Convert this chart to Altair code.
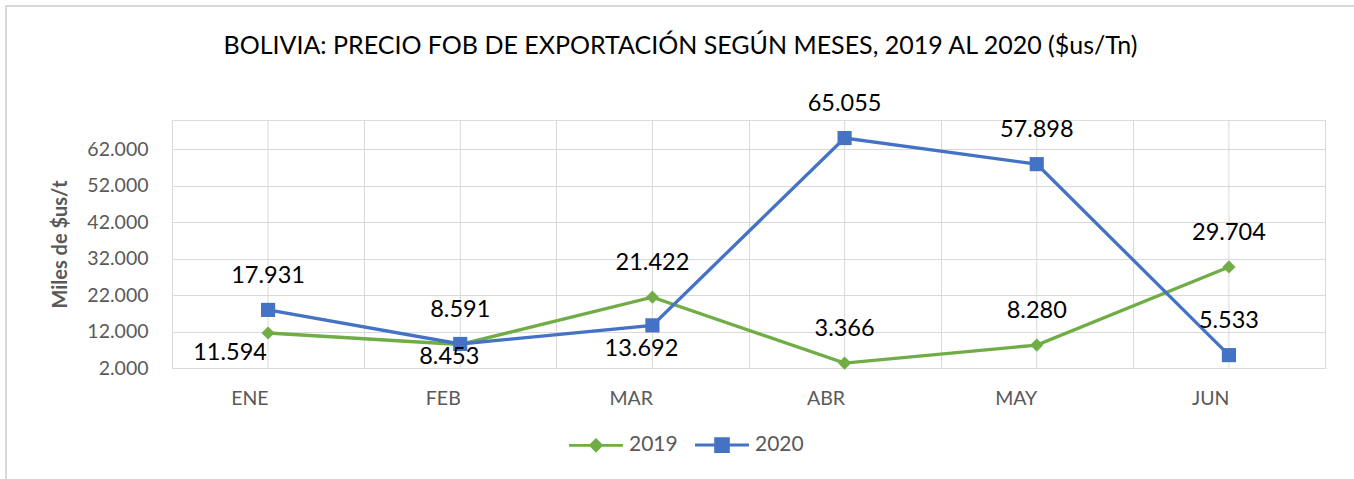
import altair as alt
import pandas as pd

# ---- data ----
meses = ["ENE", "FEB", "MAR", "ABR", "MAY", "JUN"]
series = ["2019", "2020"]
valores_2019 = [11594, 8453, 21422, 3366, 8280, 29704]
valores_2020 = [17931, 8591, 13692, 65055, 57898, 5533]
# where each data label sits relative to its point
etiqueta_2019 = ["abajo_izq", "abajo", "arriba", "arriba", "arriba", "arriba"]
etiqueta_2020 = ["arriba", "arriba", "abajo", "arriba", "arriba", "arriba"]
ticks_y = [2000, 12000, 22000, 32000, 42000, 52000, 62000]
dominio_y = [2000, 70000]

rows = []
for s, vals, pos in [("2019", valores_2019, etiqueta_2019), ("2020", valores_2020, etiqueta_2020)]:
    for m, v, p in zip(meses, vals, pos):
        rows.append({"mes": m, "serie": s, "valor": v, "pos": p})
df = pd.DataFrame(rows)
df_meses = pd.DataFrame({"mes": meses})

GREEN = "#70AD47"
BLUE = "#4472C4"
GRID = "#d9d9d9"
FONT = "Lato"
GREY_TXT = "#595959"

x_enc = alt.X(
    "mes:N", sort=meses,
    scale=alt.Scale(type="band", paddingInner=0, paddingOuter=0),
    axis=alt.Axis(title=None, tickBand="extent", grid=True, gridColor=GRID, ticks=False,
                  domain=False, labelFont=FONT, labelFontSize=19.5, labelColor=GREY_TXT,
                  labelPadding=30, labelAngle=0),
)
y_enc = alt.Y(
    "valor:Q",
    scale=alt.Scale(domain=dominio_y, nice=False, zero=False),
    axis=alt.Axis(values=ticks_y, labelExpr="replace(format(datum.value, ','), ',', '.')",
                  title="Miles de $us/t", titleFont=FONT, titleFontSize=20, titleFontWeight="bold",
                  titleColor=GREY_TXT, titlePadding=16, grid=True, gridColor=GRID, ticks=False,
                  domain=False, labelFont=FONT, labelFontSize=19.5, labelColor=GREY_TXT,
                  labelPadding=24),
)
color_scale = alt.Scale(domain=series, range=[GREEN, BLUE])

# legend symbols: a line stub with the marker on it (filled custom paths)
sym_2019 = "M-1,-0.055L1,-0.055L1,0.055L-1,0.055Z M0,-0.27L0.27,0L0,0.27L-0.27,0Z"
sym_2020 = "M-1,-0.055L1,-0.055L1,0.055L-1,0.055Z M-0.29,-0.29L0.29,-0.29L0.29,0.29L-0.29,0.29Z"

legend = alt.Legend(
    title=None, orient="none", legendX=396, legendY=297, direction="horizontal",
    symbolSize=2900, labelFont=FONT, labelFontSize=21,
    labelColor=GREY_TXT, labelOffset=5, columnPadding=14, symbolOpacity=1,
)

frame_top = alt.Chart(df_meses).mark_rule(color=GRID, strokeWidth=2).encode(
    x=alt.value(-167), x2=alt.value(1182), y=alt.value(-114)
)
frame_left = alt.Chart(df_meses).mark_rule(color=GRID, strokeWidth=2).encode(
    x=alt.value(-166), y=alt.value(-115), y2=alt.value(359)
)

rules = alt.Chart(df_meses).mark_rule(color=GRID, strokeWidth=1).encode(
    x=alt.X("mes:N", sort=meses)
)

lines = alt.Chart(df).mark_line(strokeWidth=3.3).encode(
    x=x_enc, y=y_enc,
    color=alt.Color("serie:N", scale=color_scale, legend=None),
)

pts_2019 = alt.Chart(df).transform_filter("datum.serie === '2019'").mark_point(
    filled=True, opacity=1, shape="diamond", size=175
).encode(x=alt.X("mes:N", sort=meses), y="valor:Q",
         color=alt.Color("serie:N", scale=color_scale, legend=None))

pts_2020 = alt.Chart(df).transform_filter("datum.serie === '2020'").mark_point(
    filled=True, opacity=1, shape="square", size=200
).encode(x=alt.X("mes:N", sort=meses), y="valor:Q",
         color=alt.Color("serie:N", scale=color_scale, legend=None))

legend_layer = alt.Chart(df).mark_point(filled=True, opacity=1).encode(
    x=alt.X("mes:N", sort=meses), y="valor:Q",
    size=alt.value(0),
    color=alt.Color("serie:N", scale=color_scale, legend=legend),
    shape=alt.Shape("serie:N", scale=alt.Scale(domain=series, range=[sym_2019, sym_2020]), legend=legend),
)

txt_expr = "replace(format(datum.valor, ','), ',', '.')"
base_txt = alt.Chart(df).transform_calculate(txt=txt_expr, ylab="max(datum.valor, 11630)")

above = base_txt.transform_filter("datum.pos === 'arriba'").mark_text(
    dy=-34, font=FONT, fontSize=23.5, color="#000000", baseline="middle"
).encode(x=alt.X("mes:N", sort=meses), y="valor:Q", text="txt:N")

below = base_txt.transform_filter("datum.pos === 'abajo'").mark_text(
    dx=-11, dy=24, font=FONT, fontSize=23.5, color="#000000", baseline="middle"
).encode(x=alt.X("mes:N", sort=meses), y="ylab:Q", text="txt:N")

below_left = base_txt.transform_filter("datum.pos === 'abajo_izq'").mark_text(
    dx=-38, dy=20, font=FONT, fontSize=23.5, color="#000000", baseline="middle"
).encode(x=alt.X("mes:N", sort=meses), y="ylab:Q", text="txt:N")

chart = alt.layer(
    frame_top, frame_left, rules, lines, pts_2019, pts_2020, legend_layer, above, below, below_left
).resolve_legend(color="independent", shape="independent").properties(
    width=1153, height=248,
    autosize=alt.AutoSizeParams(type="none"),
    padding={"left": 172, "top": 120, "right": 29, "bottom": 111},
    title=alt.TitleParams(
        "BOLIVIA: PRECIO FOB DE EXPORTACIÓN SEGÚN MESES, 2019 AL 2020 ($us/Tn)",
        font=FONT, fontSize=25, fontWeight="normal", color="#000000",
        anchor="middle", frame="group", offset=0, dy=55, dx=-68,
    ),
).configure_view(stroke=GRID, fill="#f0f0f0").configure(background="white")

chart.save("out.html", embed_options={"renderer": "svg", "actions": False})
